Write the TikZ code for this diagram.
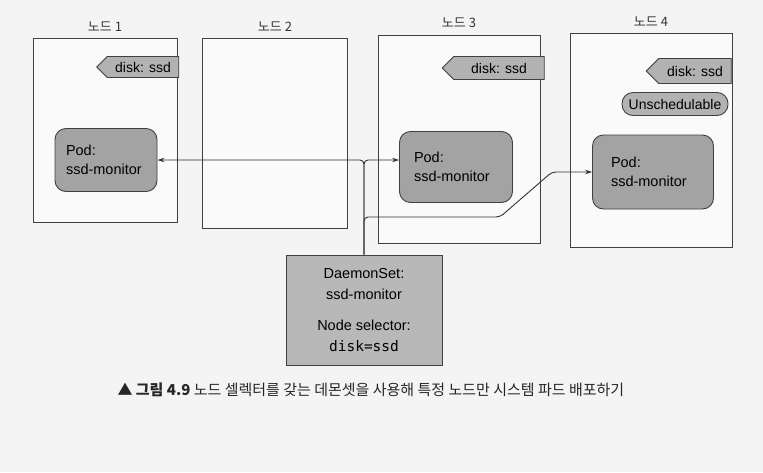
\documentclass[tikz,border=0pt]{standalone}
\usepackage{fontspec}
\setmainfont{Liberation Sans}
\setmonofont{DejaVu Sans Mono}
\newfontfamily\kofont{Noto Sans CJK KR}
\usetikzlibrary{shapes.symbols, arrows.meta, positioning}
\tikzset{
  nodebox/.style={rectangle, draw=black!75, fill=gray!4, line width=0.9pt},
  kolabel/.style={font=\kofont\fontsize{13}{15}\selectfont, text=black!80},
  disklabel/.style={signal, signal to=west, draw=black!75, fill=black!30,
                    line width=0.9pt, inner sep=2pt, font=\fontsize{14}{16}\selectfont},
  taintbox/.style={rectangle, rounded corners=11pt, draw=black!75, fill=black!30,
                   line width=0.9pt, inner sep=2pt, font=\fontsize{14}{16}\selectfont},
  podbox/.style={rectangle, rounded corners=11pt, draw=black!75, fill=black!36,
                 line width=0.9pt, align=left, font=\fontsize{14.5}{19}\selectfont},
  dsbox/.style={rectangle, draw=black!75, fill=black!28, line width=0.9pt,
                align=center, font=\fontsize{14.5}{21}\selectfont},
  arrow/.style={-{Stealth[length=7pt, width=4.5pt]}, draw=black!80, line width=0.9pt,
                rounded corners=4pt},
}

\begin{document}
\begin{tikzpicture}[x=1pt, y=-1pt]

  \path[fill=gray!9] (0,0) rectangle (763,472);
  \useasboundingbox (0,0) rectangle (763,472);

  % Cluster nodes
  \node[nodebox, minimum width=144pt, minimum height=184pt,
        label={[kolabel, label distance=3pt]above:노드 1}] (node1) at (105,130) {};
  \node[nodebox, minimum width=145pt, minimum height=190pt,
        label={[kolabel, label distance=3pt]above:노드 2}] (node2) at (275,133) {};
  \node[nodebox, minimum width=162pt, minimum height=208pt,
        label={[kolabel, label distance=3pt]above:노드 3}] (node3) at (459,139) {};
  \node[nodebox, minimum width=162pt, minimum height=214pt,
        label={[kolabel, label distance=3pt]above:노드 4}] (node4) at (651,140) {};

  % Node labels and taint
  \node[disklabel, minimum width=82pt, minimum height=21pt] (disk1) at (143,67) {disk: ssd};
  \node[disklabel, minimum width=102pt, minimum height=23pt] (disk3) at (499,68) {disk: ssd};
  \node[disklabel, minimum width=85pt, minimum height=25pt] (disk4) at (695,71) {disk: ssd};
  \node[taintbox, minimum width=106pt, minimum height=23pt] (taint4) at (675,104) {Unschedulable};

  % Pods
  \node[podbox, minimum width=102pt, minimum height=63pt, text width=80pt] (pod1) at (106,160) {Pod:\\ssd-monitor};
  \node[podbox, minimum width=113pt, minimum height=71pt, text width=84pt] (pod3) at (456,167) {Pod:\\ssd-monitor};
  \node[podbox, minimum width=121pt, minimum height=74pt, text width=84pt] (pod4) at (653,172) {Pod:\\ssd-monitor};

  % DaemonSet
  \node[dsbox, minimum width=156pt, minimum height=110pt] (ds) at (364,310)
    {DaemonSet:\\ssd-monitor\\[10pt]Node selector:\\\texttt{disk=ssd}};

  % Connectors
  \coordinate (split) at (363,160);
  \coordinate (bend1) at (500,217);
  \coordinate (bend2) at (552,172);
  \draw[arrow] (ds.north) |- (pod1.east);
  \draw[arrow] (ds.north) |- (pod3.west |- split);
  \draw[arrow] (ds.north) |- (bend1) -- (bend2) -- (pod4.west |- bend2);

  % Caption
  \node[anchor=west, font=\kofont\fontsize{15}{18}\selectfont, text=black!85] (caption) at (114,390)
    {▲ \textbf{그림 4.9} 노드 셀렉터를 갖는 데몬셋을 사용해 특정 노드만 시스템 파드 배포하기};

\end{tikzpicture}
\end{document}
